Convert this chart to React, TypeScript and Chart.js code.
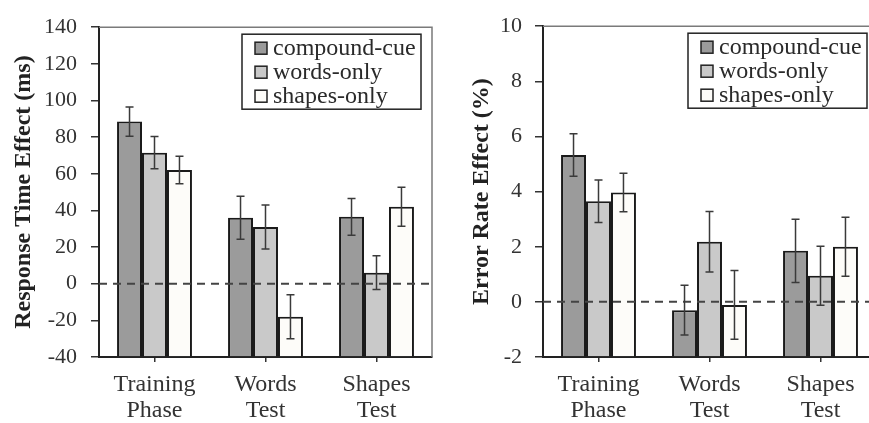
import React, { useEffect, useRef } from 'react';
import { Chart, registerables } from 'chart.js';

Chart.register(...registerables);

// ---- data ----
const categories: string[][] = [['Training', 'Phase'], ['Words', 'Test'], ['Shapes', 'Test']];
const seriesNames = ['compound-cue', 'words-only', 'shapes-only'];
const seriesColors = ['#9b9b9b', '#c9c9c9', '#fdfcf9'];

// Response time effect (ms)
const rtCompound = [88.5, 36, 36.5];
const rtWords = [71.5, 31, 6];
const rtShapes = [62, -18, 42];
const rtCompoundErr = [8, 11.7, 10];
const rtWordsErr = [8.8, 12, 9.2];
const rtShapesErr = [7.5, 12, 10.6];
const rtAxis = [-40, 140, 20]; // min, max, step

// Error rate effect (%)
const erCompound = [5.33, -0.3, 1.85];
const erWords = [3.65, 2.18, 0.95];
const erShapes = [3.97, -0.11, 2.0];
const erCompoundErr = [0.77, 0.9, 1.15];
const erWordsErr = [0.77, 1.1, 1.07];
const erShapesErr = [0.7, 1.25, 1.07];
const erAxis = [-2, 10, 2];

const FONT = "'Liberation Serif', 'Times New Roman', Times, serif";

type PanelProps = {
  left: number;
  title: string;
  values: number[][];
  errors: number[][];
  axis: number[];
  yWidth: number;
  padRight: number;
  titlePad: number;
  tickPad: number;
  legendRightGap: number;
};

function Panel(p: PanelProps) {
  const ref = useRef<HTMLCanvasElement | null>(null);
  useEffect(() => {
    if (!ref.current) return;
    const overlay = {
      id: 'overlay',
      afterDatasetsDraw(chart: any) {
        const { ctx, chartArea } = chart;
        const ys = chart.scales.y;
        // dashed zero line
        const y0 = ys.getPixelForValue(0);
        ctx.save();
        ctx.strokeStyle = '#444';
        ctx.lineWidth = 2;
        ctx.setLineDash([8, 6]);
        ctx.beginPath();
        ctx.moveTo(chartArea.left, y0);
        ctx.lineTo(chartArea.right, y0);
        ctx.stroke();
        ctx.setLineDash([]);
        // error bars
        ctx.strokeStyle = '#3a3a3a';
        ctx.lineWidth = 1.5;
        p.values.forEach((vals, di) => {
          const meta = chart.getDatasetMeta(di);
          vals.forEach((v, j) => {
            const el = meta.data[j];
            const e = p.errors[di][j];
            const yt = ys.getPixelForValue(v + e);
            const yb = ys.getPixelForValue(v - e);
            const x = el.x;
            ctx.beginPath();
            ctx.moveTo(x, yt);
            ctx.lineTo(x, yb);
            ctx.moveTo(x - 4, yt);
            ctx.lineTo(x + 4, yt);
            ctx.moveTo(x - 4, yb);
            ctx.lineTo(x + 4, yb);
            ctx.stroke();
          });
        });
        ctx.restore();
      },
      afterDraw(chart: any) {
        const { ctx, chartArea } = chart;
        ctx.save();
        // top and right frame
        ctx.strokeStyle = '#7a7a7a';
        ctx.lineWidth = 1.5;
        ctx.beginPath();
        ctx.moveTo(chartArea.left, chartArea.top);
        ctx.lineTo(chartArea.right, chartArea.top);
        ctx.lineTo(chartArea.right, chartArea.bottom);
        ctx.stroke();
        // legend
        const bw = 179;
        const bh = 75;
        const bx = chartArea.right - p.legendRightGap - bw;
        const by = chartArea.top + 7;
        ctx.fillStyle = '#ffffff';
        ctx.fillRect(bx, by, bw, bh);
        ctx.strokeStyle = '#222';
        ctx.lineWidth = 1.5;
        ctx.strokeRect(bx, by, bw, bh);
        ctx.font = `24px ${FONT}`;
        ctx.textBaseline = 'middle';
        ctx.textAlign = 'left';
        seriesNames.forEach((name, i) => {
          const cy = by + 14 + i * 24;
          ctx.fillStyle = seriesColors[i];
          ctx.fillRect(bx + 13, cy - 6, 12, 12);
          ctx.strokeStyle = '#222';
          ctx.lineWidth = 1.5;
          ctx.strokeRect(bx + 13, cy - 6, 12, 12);
          ctx.fillStyle = '#2a2a2a';
          ctx.fillText(name, bx + 31, cy + 1);
        });
        ctx.restore();
      },
    };

    const chart = new Chart(ref.current, {
      type: 'bar',
      data: {
        labels: categories,
        datasets: p.values.map((vals, i) => ({
          label: seriesNames[i],
          data: vals,
          base: p.axis[0],
          backgroundColor: seriesColors[i],
          borderColor: '#1a1a1a',
          borderWidth: 2,
          categoryPercentage: 0.675,
          barPercentage: 1,
        })),
      },
      options: {
        animation: false,
        responsive: false,
        maintainAspectRatio: false,
        layout: { padding: { left: 0, right: p.padRight, top: 24, bottom: 0 } },
        plugins: { legend: { display: false }, tooltip: { enabled: false } },
        scales: {
          x: {
            afterFit: (s: any) => { s.height = 66; },
            grid: {
              display: true,
              drawOnChartArea: false,
              drawTicks: true,
              tickLength: 5,
              color: '#333',
              lineWidth: 1.5,
              offset: false,
            },
            border: { display: true, color: '#222', width: 2 },
            ticks: {
              color: '#333',
              padding: 10,
              font: { family: FONT, size: 24, lineHeight: 1.08 },
              maxRotation: 0,
              autoSkip: false,
            },
          },
          y: {
            min: p.axis[0],
            max: p.axis[1],
            afterFit: (s: any) => { s.width = p.yWidth; },
            grid: {
              display: true,
              drawOnChartArea: false,
              drawTicks: true,
              tickLength: 8,
              color: '#333',
              lineWidth: 1.5,
            },
            border: { display: true, color: '#222', width: 2 },
            ticks: {
              stepSize: p.axis[2],
              color: '#333',
              padding: p.tickPad,
              font: { family: FONT, size: 22 },
              callback: (v: any) => String(v),
            },
            title: {
              display: true,
              text: p.title,
              color: '#222',
              font: { family: FONT, size: 24, weight: 'bold', lineHeight: 1.2 },
              padding: { top: p.titlePad, bottom: 0 },
            },
          },
        },
      },
      plugins: [overlay],
    } as any);
    return () => chart.destroy();
  }, []);
  return (
    <canvas
      ref={ref}
      width={440}
      height={423}
      style={{ position: 'absolute', left: p.left, top: 0, width: 440, height: 423 }}
    />
  );
}

export default function App() {
  return (
    <div
      style={{
        position: 'fixed',
        left: 0,
        top: 0,
        width: 869,
        height: 423,
        overflow: 'hidden',
        background: '#ffffff',
      }}
    >
      <Panel
        left={0}
        title="Response Time Effect (ms)"
        values={[rtCompound, rtWords, rtShapes]}
        errors={[rtCompoundErr, rtWordsErr, rtShapesErr]}
        axis={rtAxis}
        yWidth={99}
        padRight={8}
        titlePad={9}
        tickPad={14}
        legendRightGap={11}
      />
      <Panel
        left={440}
        title="Error Rate Effect (%)"
        values={[erCompound, erWords, erShapes]}
        errors={[erCompoundErr, erWordsErr, erShapesErr]}
        axis={erAxis}
        yWidth={103}
        padRight={4}
        titlePad={27}
        tickPad={13}
        legendRightGap={9}
      />
    </div>
  );
}
